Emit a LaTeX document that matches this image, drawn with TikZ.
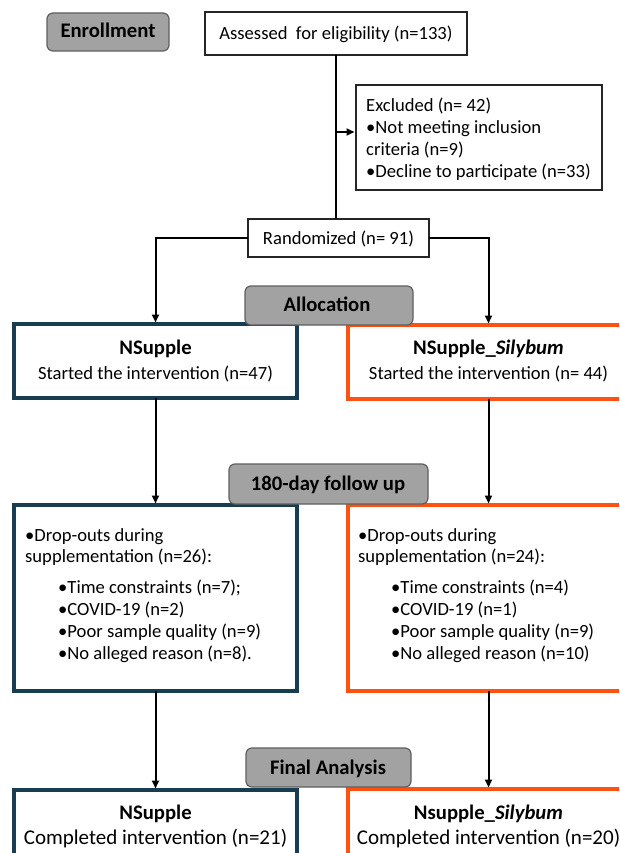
\documentclass[tikz,border=0pt]{standalone}
\usepackage{fontspec}
\setmainfont{Carlito}
\usetikzlibrary{arrows.meta}
\definecolor{nteal}{RGB}{24,61,80}
\definecolor{norange}{RGB}{255,82,18}
\definecolor{boxgray}{RGB}{162,162,162}
\definecolor{edgegray}{RGB}{95,95,95}
\definecolor{boxblack}{RGB}{38,38,38}
\begin{document}
\begin{tikzpicture}[x=1pt,y=-1pt,
  txt/.style={inner sep=0pt, font=\fontsize{18.6pt}{22pt}\selectfont},
  hd/.style={inner sep=0pt, font=\fontsize{20.7pt}{24pt}\selectfont\bfseries},
  fin/.style={inner sep=0pt, font=\fontsize{21pt}{25pt}\selectfont},
  box/.style={anchor=north west, inner sep=0pt, outer sep=0pt, fill=white},
  graybox/.style={box, draw=edgegray, line width=1.2pt, fill=boxgray, rounded corners=6pt},
  blackbox/.style={box, draw=boxblack, line width=2pt},
  tealbox/.style={box, draw=nteal, line width=3.5pt},
  orangebox/.style={box, draw=norange, line width=3.5pt},
  conn/.style={line width=2pt, draw=black},
  arr/.style={conn, -{Triangle[length=8pt,width=7pt]}, shorten >=1.5pt},
]
\useasboundingbox (0,0) rectangle (619,853);
\clip (0,0) rectangle (619,853);
\fill[white] (0,0) rectangle (619,853);

% boxes
\node[blackbox, minimum width=262pt, minimum height=43pt] (assess) at (205,12) {};
\node[blackbox, minimum width=246pt, minimum height=105pt] (excl) at (356,85) {};
\node[blackbox, minimum width=181pt, minimum height=38pt] (rand) at (248,219) {};
\node[tealbox, minimum width=283pt, minimum height=74pt] (lstart) at (14,324) {};
\node[orangebox, minimum width=281pt, minimum height=74pt] (rstart) at (348,325) {};
\node[tealbox, minimum width=283pt, minimum height=186pt] (ldrop) at (14,505) {};
\node[orangebox, minimum width=281pt, minimum height=186pt] (rdrop) at (348,505) {};
\node[tealbox, minimum width=283pt, minimum height=100pt] (lfin) at (14,790) {};
\node[orangebox, minimum width=281pt, minimum height=100pt] (rfin) at (348,789) {};

% connectors
\draw[conn] (assess.south) -- (assess.south |- rand.north);
\coordinate (exj) at (336,132);
\draw[arr] (exj) -- (exj -| excl.west);
\draw[arr] (rand.west) -| (lstart.north);
\draw[arr] (rand.east) -| (rstart.north);
\draw[arr] (lstart.south) -- (ldrop.north);
\draw[arr] (rstart.south) -- (rdrop.north);
\draw[arr] (ldrop.south) -- (lfin.north);
\draw[arr] (rdrop.south) -- (rfin.north);

% stage labels
\node[graybox, minimum width=122pt, minimum height=38pt] (enroll) at (47,13) {};
\node[graybox, minimum width=168pt, minimum height=39pt] (alloc) at (245,286) {};
\node[graybox, minimum width=199pt, minimum height=40pt] (follow) at (229,464) {};
\node[graybox, minimum width=165pt, minimum height=39pt] (finana) at (246,748) {};

\node[hd, anchor=base] (tEnroll) at (108,38) {Enrollment};
\node[hd, anchor=base] (tAlloc) at (327,311) {Allocation};
\node[hd, anchor=base] (tFollow) at (328,490) {180-day follow up};
\node[hd, anchor=base] (tFinal) at (328,774) {Final Analysis};

% texts
\node[txt, anchor=base] (tAssess) at (336,40) {Assessed\ \ for eligibility (n=133)};
\node[txt, anchor=base west] (tEx1) at (366,112) {Excluded (n= 42)};
\node[txt, anchor=base west] (tEx2) at (366,133.5) {•Not meeting inclusion};
\node[txt, anchor=base west] (tEx3) at (366,155.5) {criteria (n=9)};
\node[txt, anchor=base west] (tEx4) at (366,178) {•Decline to participate (n=33)};
\node[txt, anchor=base] (tRand) at (338.5,244) {Randomized (n= 91)};

\node[hd, anchor=base] (tL1) at (155.5,354) {NSupple};
\node[txt, anchor=base] (tL2) at (155.5,379) {Started the intervention (n=47)};
\node[hd, anchor=base] (tR1) at (488.5,354) {NSupple\_\textit{Silybum}};
\node[txt, anchor=base] (tR2) at (488.5,379) {Started the intervention (n= 44)};

\node[txt, anchor=base west] (tLd1) at (25,541) {•Drop-outs during};
\node[txt, anchor=base west] (tLd2) at (25,562) {supplementation (n=26):};
\node[txt, anchor=base west] (tLd3) at (58,593) {•Time constraints (n=7);};
\node[txt, anchor=base west] (tLd4) at (58,615) {•COVID-19 (n=2)};
\node[txt, anchor=base west] (tLd5) at (58,637.5) {•Poor sample quality (n=9)};
\node[txt, anchor=base west] (tLd6) at (58,659.5) {•No alleged reason (n=8).};

\node[txt, anchor=base west] (tRd1) at (358,541) {•Drop-outs during};
\node[txt, anchor=base west] (tRd2) at (358,562) {supplementation (n=24):};
\node[txt, anchor=base west] (tRd3) at (391,593) {•Time constraints (n=4)};
\node[txt, anchor=base west] (tRd4) at (391,615) {•COVID-19 (n=1)};
\node[txt, anchor=base west] (tRd5) at (391,637.5) {•Poor sample quality (n=9)};
\node[txt, anchor=base west] (tRd6) at (391,659.5) {•No alleged reason (n=10)};

\node[hd, anchor=base] (tLf1) at (155.5,819) {NSupple};
\node[fin, anchor=base] (tLf2) at (155.5,844) {Completed intervention (n=21)};
\node[hd, anchor=base] (tRf1) at (488.5,819) {Nsupple\_\textit{Silybum}};
\node[fin, anchor=base] (tRf2) at (488.5,844) {Completed intervention (n=20)};
\end{tikzpicture}
\end{document}
